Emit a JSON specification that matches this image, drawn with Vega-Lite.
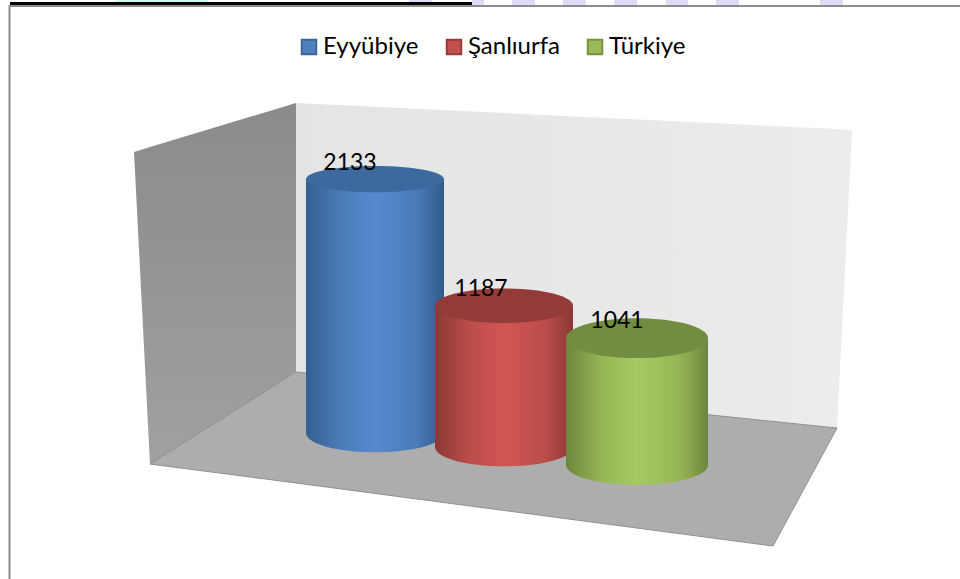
{
"$schema":"https://vega.github.io/schema/vega-lite/v6.json",
"width":960,"height":579,"padding":0,"autosize":{"type":"none"},
"background":"white",
"config":{"view":{"stroke":null},"font":"Lato"},
"datasets":{
"cylinders":[{"name":"Eyyübiye","value":2133},{"name":"Şanlıurfa","value":1187},{"name":"Türkiye","value":1041}],
"leftWall":[{"pos":134,"low":2361,"high":2361},{"pos":150,"low":-261,"high":2403},{"pos":296,"low":513,"high":2773}],
"backWall":[{"pos":296,"low":513,"high":2773},{"pos":837,"low":42,"high":2555},{"pos":852,"low":2546,"high":2546}],
"floor":[{"pos":150,"low":-261,"high":-261},{"pos":296,"low":-420,"high":513},{"pos":773,"low":-950,"high":97},{"pos":837,"low":42,"high":42}],
"page":[{"pos":116,"pos2":208,"low":3588,"high":3700,"tint":"cyan"},{"pos":409,"pos2":432,"low":3588,"high":3700,"tint":"lavender"},{"pos":472,"pos2":484,"low":3588,"high":3700,"tint":"lavender"},{"pos":512,"pos2":535,"low":3588,"high":3700,"tint":"lavender"},{"pos":563,"pos2":586,"low":3588,"high":3700,"tint":"lavender"},{"pos":614,"pos2":637,"low":3588,"high":3700,"tint":"lavender"},{"pos":666,"pos2":688,"low":3588,"high":3700,"tint":"lavender"},{"pos":716,"pos2":739,"low":3588,"high":3700,"tint":"lavender"},{"pos":820,"pos2":843,"low":3588,"high":3700,"tint":"lavender"},{"pos":10,"pos2":472,"low":3588,"high":3622,"tint":"black"}]
},
"resolve":{"scale":{"x":"independent"}},
"layer":[
{"encoding":{"x":{"field":"pos","type":"quantitative","axis":null,"scale":{"domain":[0,960],"range":[0,960],"nice":false,"zero":false}}},
 "layer":[
 {"data":{"name":"page"},"mark":{"type":"rect"},"encoding":{"x2":{"field":"pos2"},"y":{"field":"low","type":"quantitative","axis":null,"scale":{"domain":[-1227,3639],"range":[579,0],"nice":false,"zero":false}},"y2":{"field":"high"},"fill":{"field":"tint","type":"nominal","legend":null,"scale":{"domain":["cyan","lavender","black"],"range":["#ccfbf5","#dcdcf5","#000000"]}}}},
 {"data":{"name":"leftWall"},"mark":{"type":"area","fill":{"gradient":"linear","x1":0,"y1":0,"x2":0,"y2":1,"stops":[{"offset":0,"color":"#8b8b8b"},{"offset":1,"color":"#a0a0a0"}]}},"encoding":{"y":{"field":"low","type":"quantitative"},"y2":{"field":"high"}}},
 {"data":{"name":"backWall"},"mark":{"type":"area","fill":{"gradient":"linear","x1":0,"y1":0,"x2":1,"y2":0,"stops":[{"offset":0,"color":"#e4e4e4"},{"offset":1,"color":"#ececec"}]}},"encoding":{"y":{"field":"low","type":"quantitative"},"y2":{"field":"high"}}},
 {"data":{"name":"floor"},"mark":{"type":"area","fill":"#adadad","stroke":"#8f8f8f","strokeWidth":1},"encoding":{"y":{"field":"low","type":"quantitative"},"y2":{"field":"high"}}}
 ]},
{"data":{"name":"cylinders"},
 "encoding":{"x":{"field":"name","type":"nominal","axis":null,"sort":null,"scale":{"type":"point","padding":0,"range":[375,637]}}},
 "layer":[
 {"mark":{"type":"bar","size":1,"yOffset":20},"encoding":{"y":{"field":"value","type":"quantitative"},"y2":{"datum":0},
   "stroke":{"field":"name","type":"nominal","sort":null,"scale":{"range":["#3a6597","#943c3a","#76923f"]},"legend":{"title":null}},
   "color":{"field":"name","type":"nominal","sort":null,"scale":{"range":["#4f81bd","#c0504d","#9bbb59"]},"legend":{"title":null,"orient":"none","legendX":297,"legendY":35,"direction":"horizontal","symbolType":"square","symbolSize":210,"symbolOpacity":1,"symbolStrokeWidth":2,"labelFont":"Lato","labelFontSize":24,"labelColor":"#000000","columnPadding":23,"labelOffset":2}}}},
 {"transform":[{"filter":"datum.name==='Eyyübiye'"}],"layer":[
  {"mark":{"type":"point","filled":true,"opacity":1,"size":19044,"shape":"M-1,0A1,0.28,0,1,0,1,0A1,0.28,0,1,0,-1,0Z","fill":{"gradient":"linear","x1":0,"y1":0,"x2":1,"y2":0,"stops":[{"offset":0,"color":"#34608f"},{"offset":0.25,"color":"#4a7cb8"},{"offset":0.5,"color":"#568ad0"},{"offset":0.8,"color":"#4a7cb8"},{"offset":1,"color":"#2f5a8c"}]}},"encoding":{"y":{"datum":0,"type":"quantitative"}}},
  {"mark":{"type":"bar","size":138,"fill":{"gradient":"linear","x1":0,"y1":0,"x2":1,"y2":0,"stops":[{"offset":0,"color":"#34608f"},{"offset":0.25,"color":"#4a7cb8"},{"offset":0.5,"color":"#568ad0"},{"offset":0.8,"color":"#4a7cb8"},{"offset":1,"color":"#2f5a8c"}]}},"encoding":{"y":{"field":"value","type":"quantitative"},"y2":{"datum":0}}},
  {"mark":{"type":"point","filled":true,"opacity":1,"size":19044,"shape":"M-1,0A1,0.19,0,1,0,1,0A1,0.19,0,1,0,-1,0Z","fill":"#3c6a9e"},"encoding":{"y":{"field":"value","type":"quantitative"}}},
  {"mark":{"type":"text","font":"Lato","fontSize":23,"color":"#000000","dx":-25,"dy":-16},"encoding":{"y":{"field":"value","type":"quantitative"},"text":{"field":"value","type":"quantitative","format":"d"}}}
 ]},
 {"transform":[{"filter":"datum.name==='Şanlıurfa'"}],"layer":[
  {"mark":{"type":"point","filled":true,"opacity":1,"xOffset":-2,"yOffset":14,"size":19044,"shape":"M-1,0A1,0.28,0,1,0,1,0A1,0.28,0,1,0,-1,0Z","fill":{"gradient":"linear","x1":0,"y1":0,"x2":1,"y2":0,"stops":[{"offset":0,"color":"#8a3836"},{"offset":0.25,"color":"#bb4d4a"},{"offset":0.5,"color":"#d05653"},{"offset":0.8,"color":"#bb4d4a"},{"offset":1,"color":"#8a3836"}]}},"encoding":{"y":{"datum":0,"type":"quantitative"}}},
  {"mark":{"type":"bar","size":138,"xOffset":-2,"yOffset":14,"y2Offset":14,"fill":{"gradient":"linear","x1":0,"y1":0,"x2":1,"y2":0,"stops":[{"offset":0,"color":"#8a3836"},{"offset":0.25,"color":"#bb4d4a"},{"offset":0.5,"color":"#d05653"},{"offset":0.8,"color":"#bb4d4a"},{"offset":1,"color":"#8a3836"}]}},"encoding":{"y":{"field":"value","type":"quantitative"},"y2":{"datum":0}}},
  {"mark":{"type":"point","filled":true,"opacity":1,"xOffset":-2,"yOffset":14,"size":19044,"shape":"M-1,0A1,0.25,0,1,0,1,0A1,0.25,0,1,0,-1,0Z","fill":"#933b39"},"encoding":{"y":{"field":"value","type":"quantitative"}}},
  {"mark":{"type":"text","font":"Lato","fontSize":23,"color":"#000000","dx":-25,"dy":-3},"encoding":{"y":{"field":"value","type":"quantitative"},"text":{"field":"value","type":"quantitative","format":"d"}}}
 ]},
 {"transform":[{"filter":"datum.name==='Türkiye'"}],"layer":[
  {"mark":{"type":"point","filled":true,"opacity":1,"yOffset":32,"size":20164,"shape":"M-1,0A1,0.28,0,1,0,1,0A1,0.28,0,1,0,-1,0Z","fill":{"gradient":"linear","x1":0,"y1":0,"x2":1,"y2":0,"stops":[{"offset":0,"color":"#6c863c"},{"offset":0.25,"color":"#97b556"},{"offset":0.5,"color":"#a6ca60"},{"offset":0.8,"color":"#97b556"},{"offset":1,"color":"#6c863c"}]}},"encoding":{"y":{"datum":0,"type":"quantitative"}}},
  {"mark":{"type":"bar","size":142,"yOffset":29,"y2Offset":32,"fill":{"gradient":"linear","x1":0,"y1":0,"x2":1,"y2":0,"stops":[{"offset":0,"color":"#6c863c"},{"offset":0.25,"color":"#97b556"},{"offset":0.5,"color":"#a6ca60"},{"offset":0.8,"color":"#97b556"},{"offset":1,"color":"#6c863c"}]}},"encoding":{"y":{"field":"value","type":"quantitative"},"y2":{"datum":0}}},
  {"mark":{"type":"point","filled":true,"opacity":1,"yOffset":29,"size":20164,"shape":"M-1,0A1,0.28,0,1,0,1,0A1,0.28,0,1,0,-1,0Z","fill":"#728d42"},"encoding":{"y":{"field":"value","type":"quantitative"}}},
  {"mark":{"type":"text","font":"Lato","fontSize":23,"color":"#000000","dx":-20,"dy":12},"encoding":{"y":{"field":"value","type":"quantitative"},"text":{"field":"value","type":"quantitative","format":"d"}}}
 ]}
 ]},
{"data":{"values":[{"pos":9.5,"low":-1300,"high":3588}]},
 "mark":{"type":"rect","fill":null,"stroke":"#8c8c8c","strokeWidth":2},
 "encoding":{"x":{"field":"pos","type":"quantitative","axis":null,"scale":{"domain":[0,960],"range":[0,960],"nice":false,"zero":false}},"x2":{"datum":1000},"y":{"field":"low","type":"quantitative"},"y2":{"field":"high"}}}
]
}
